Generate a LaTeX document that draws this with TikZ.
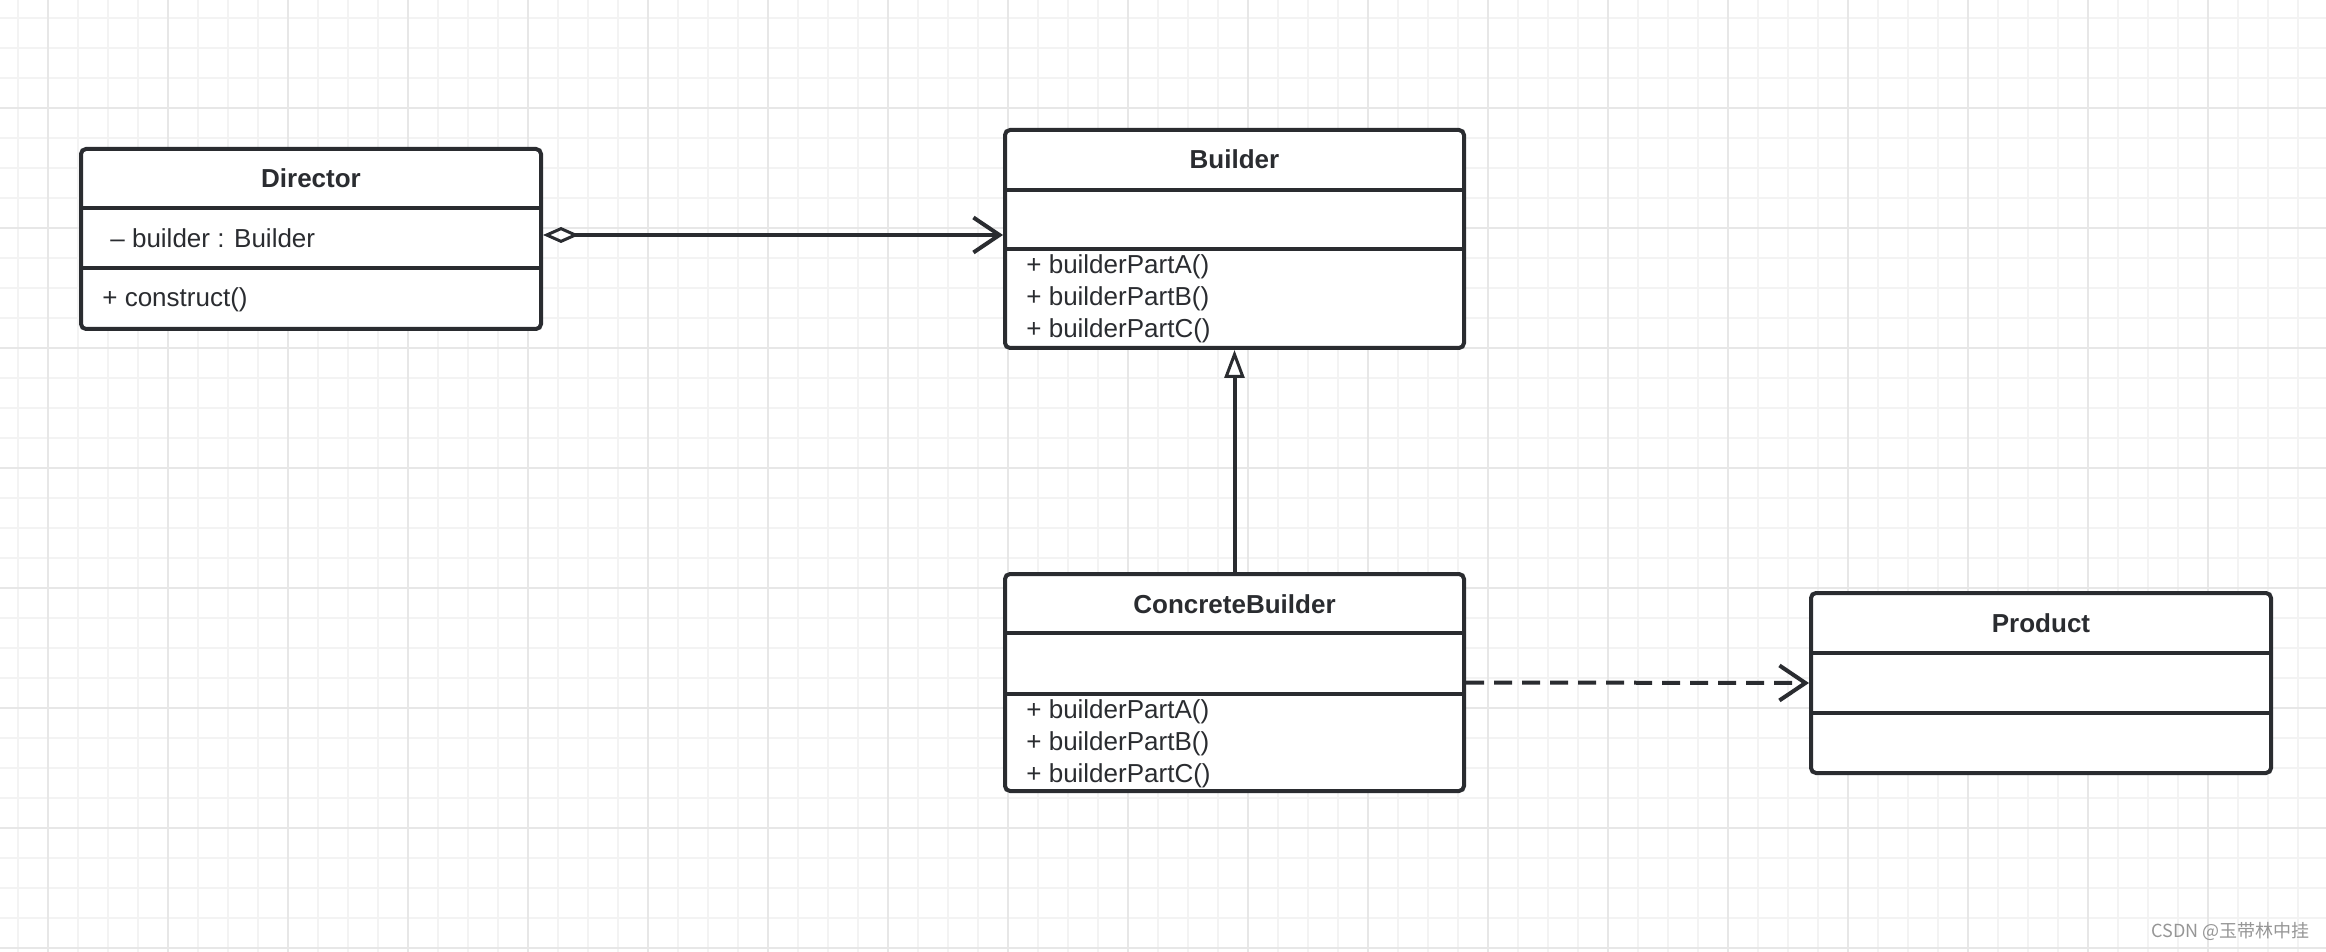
\documentclass[tikz,border=0pt]{standalone}
\usepackage{fontspec}
\setmainfont{Liberation Sans}
\newfontfamily\cjkfont{Noto Sans CJK SC}
\usetikzlibrary{arrows.meta,calc}
\definecolor{ink}{RGB}{42,44,48}
\definecolor{gridminor}{RGB}{243,243,243}
\definecolor{gridmajor}{RGB}{231,231,231}
\definecolor{marktext}{RGB}{150,150,150}
\tikzstyle{classbox}=[draw=ink, fill=white, line width=2pt, rounded corners=2.5pt, inner sep=0pt]
\tikzstyle{divider}=[draw=ink, line width=2pt]
\tikzstyle{classtitle}=[font=\fontsize{13}{15}\selectfont\bfseries, text=ink, inner sep=0pt, anchor=base]
\tikzstyle{member}=[font=\fontsize{13}{15}\selectfont, text=ink, inner sep=0pt, anchor=base west]
\tikzstyle{aggregation}=[draw=ink, line width=2pt,
               {Diamond[open,length=18pt,width=8pt,line width=1.5pt]}-{Straight Barb[length=13pt,width=17.5pt]}]
\tikzstyle{inheritance}=[draw=ink, line width=2pt, -{Triangle[open,length=14pt,width=10pt,line width=1.5pt]}]
\tikzstyle{dependency}=[draw=ink, line width=2pt, dash pattern=on 9pt off 5pt,
               -{Straight Barb[length=13pt,width=17.5pt]}]

\begin{document}
\begin{tikzpicture}[x=0.5pt, y=-0.5pt]
\useasboundingbox (0,0) rectangle (2326,952);
\fill[white] (0,0) rectangle (2326,952);

% grid paper
\foreach \gx in {18,48,...,2326} \draw[gridminor, line width=1pt] (\gx,0) -- (\gx,952);
\foreach \gy in {18,48,...,952} \draw[gridminor, line width=1pt] (0,\gy) -- (2326,\gy);
\foreach \gx in {48,168,...,2326} \draw[gridmajor, line width=1pt] (\gx,0) -- (\gx,952);
\foreach \gy in {108,228,...,952} \draw[gridmajor, line width=1pt] (0,\gy) -- (2326,\gy);

% classes
\node[classbox, minimum width=230pt, minimum height=90pt] at (311,239) (director) {};
\node[classbox, minimum width=229.5pt, minimum height=109pt] at (1234.5,239) (builder) {};
\node[classbox, minimum width=229.5pt, minimum height=108.5pt] at (1234.5,682.5) (concrete) {};
\node[classbox, minimum width=230pt, minimum height=90pt] at (2041,683) (product) {};

\foreach \nm/\ya/\yb in {director/208/268, builder/190/249, concrete/633/694, product/653/713}
{
  \draw[divider] (\nm.west |- 0,\ya) -- (\nm.east |- 0,\ya);
  \draw[divider] (\nm.west |- 0,\yb) -- (\nm.east |- 0,\yb);
}

\node[classtitle] at (311,188) (director title) {Director};
\node[member] at (110,248) (director attr) {– builder : Builder};
\node[member] at (102,307) (director op) {+ construct()};

\node[classtitle] at (1234.5,169) (builder title) {Builder};
\node[member] at (1026,274) (builder opa) {+ builderPartA()};
\node[member] at (1026,306) (builder opb) {+ builderPartB()};
\node[member] at (1026,338) (builder opc) {+ builderPartC()};

\node[classtitle] at (1234.5,613) (concrete title) {ConcreteBuilder};
\node[member] at (1026,718) (concrete opa) {+ builderPartA()};
\node[member] at (1026,750) (concrete opb) {+ builderPartB()};
\node[member] at (1026,782) (concrete opc) {+ builderPartC()};

\node[classtitle] at (2041,632) (product title) {Product};

% relations
\draw[aggregation] ($(director.east)+(0,-4)$) -- ($(builder.west)+(0,-4)$);
\draw[inheritance] (concrete.north) -- (builder.south);
\draw[dependency] (concrete.east) -- (product.west);

\node[anchor=base east, inner sep=0pt, text=marktext, font=\cjkfont\fontsize{9}{11}\selectfont] at (2310,937) (mark) {CSDN @玉带林中挂};
\end{tikzpicture}
\end{document}
